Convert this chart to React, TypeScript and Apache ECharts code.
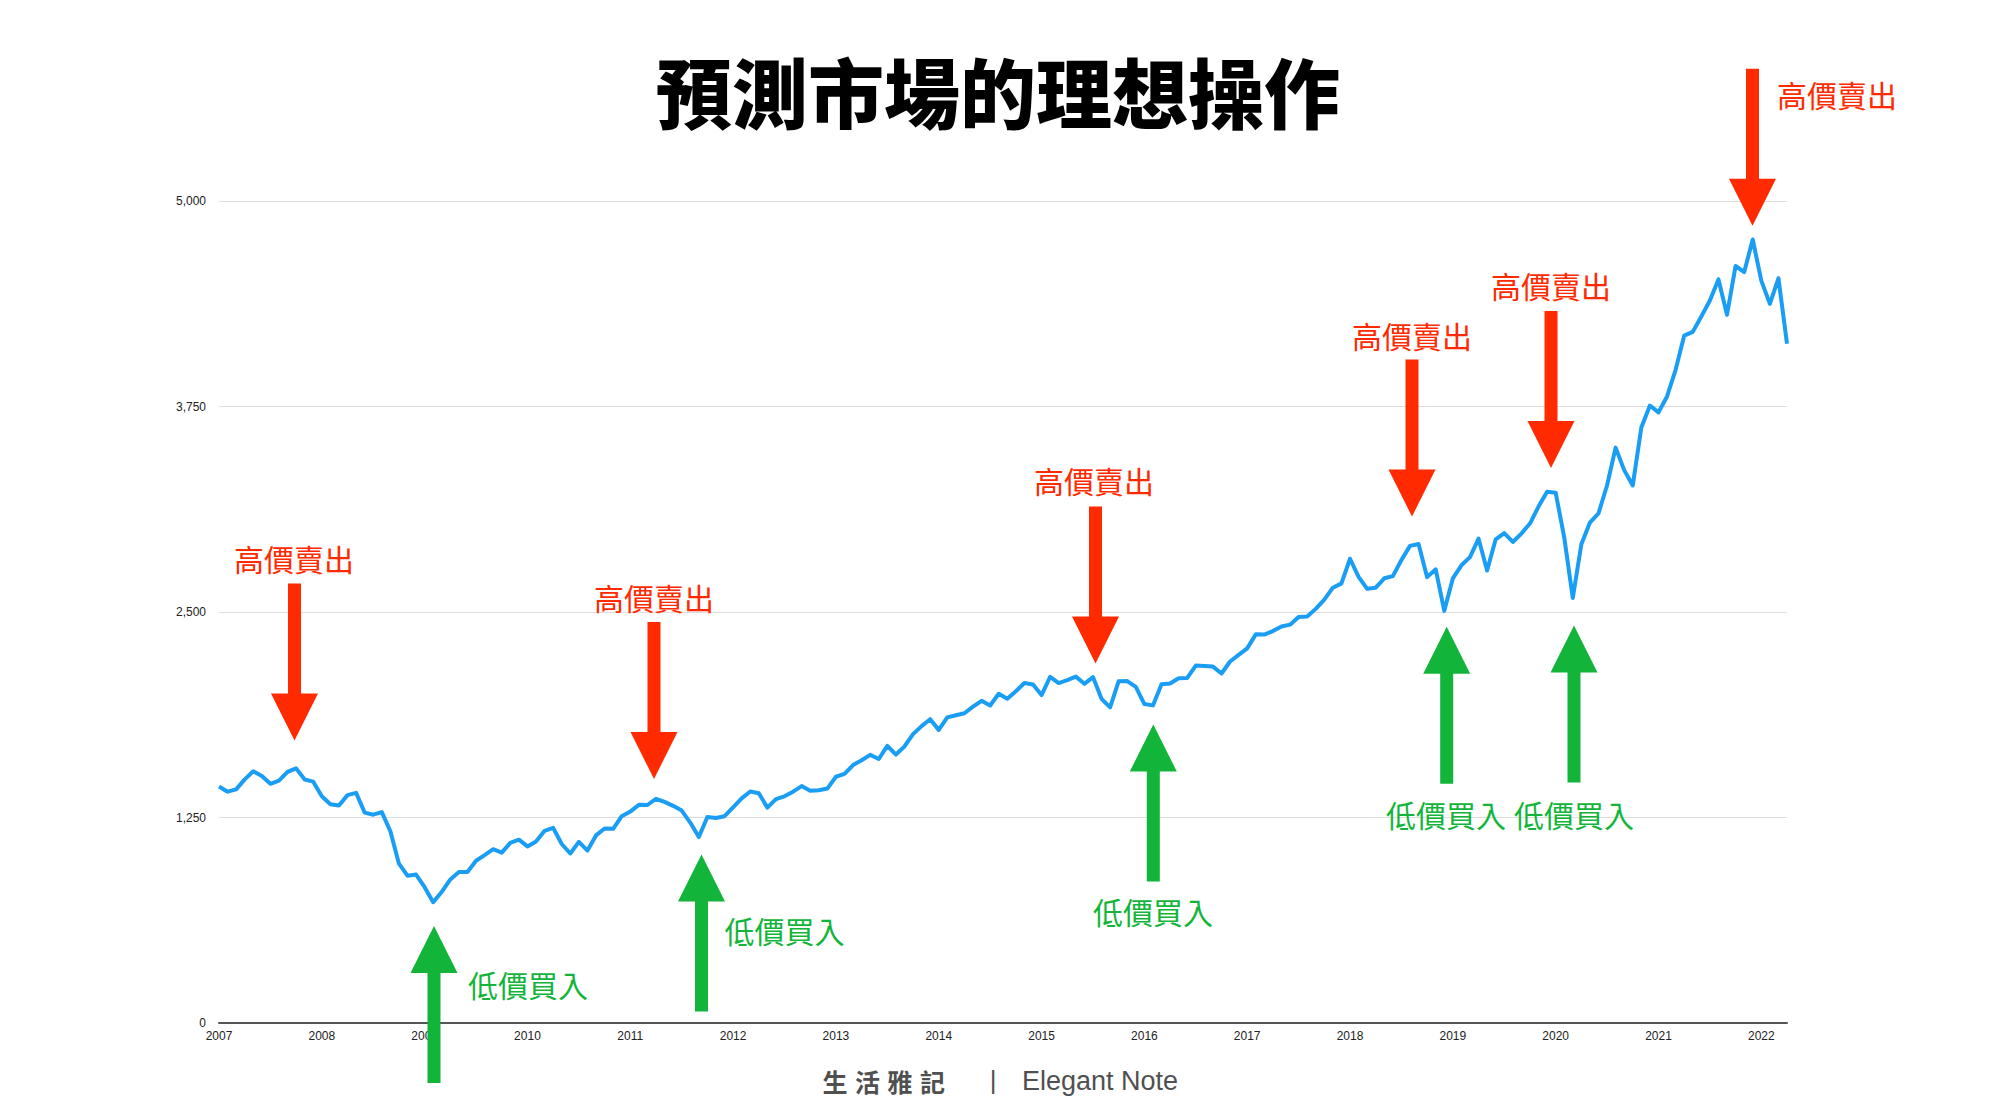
import React, { useEffect, useRef } from "react";
import * as echarts from "echarts";

// ---------- text ----------
const TITLE = "預測市場的理想操作";
const SELL_LABEL = "高價賣出";
const BUY_LABEL = "低價買入";
const FOOTER_CN = ["生", "活", "雅", "記"];
const FOOTER_SEP = "|";
const FOOTER_EN = "Elegant Note";

// ---------- data (monthly closes) ----------
const years = [2007, 2008, 2009, 2010, 2011, 2012, 2013, 2014, 2015, 2016, 2017, 2018, 2019, 2020, 2021, 2022];
const months = ["01", "02", "03", "04", "05", "06", "07", "08", "09", "10", "11", "12"];

const v2007 = [1438, 1407, 1421, 1482, 1531, 1503, 1455, 1474, 1527, 1549, 1481, 1468];
const v2008 = [1379, 1331, 1323, 1386, 1400, 1280, 1267, 1283, 1166, 969, 896, 903];
const v2009 = [826, 735, 798, 873, 919, 919, 987, 1021, 1057, 1036, 1096, 1115];
const v2010 = [1074, 1104, 1169, 1187, 1089, 1031, 1102, 1049, 1141, 1183, 1181, 1258];
const v2011 = [1286, 1327, 1326, 1364, 1345, 1321, 1292, 1219, 1131, 1253, 1247, 1258];
const v2012 = [1312, 1366, 1408, 1398, 1310, 1362, 1379, 1407, 1441, 1412, 1416, 1426];
const v2013 = [1498, 1515, 1569, 1598, 1631, 1606, 1686, 1633, 1682, 1757, 1806, 1848];
const v2014 = [1783, 1859, 1872, 1884, 1924, 1960, 1931, 2003, 1972, 2018, 2068, 2059];
const v2015 = [1995, 2105, 2068, 2086, 2107, 2063, 2104, 1972, 1920, 2079, 2080, 2044];
const v2016 = [1940, 1932, 2060, 2065, 2097, 2099, 2174, 2171, 2168, 2126, 2199, 2239];
const v2017 = [2279, 2364, 2363, 2384, 2412, 2423, 2470, 2472, 2519, 2575, 2648, 2674];
const v2018 = [2824, 2714, 2641, 2648, 2705, 2718, 2816, 2902, 2914, 2712, 2760, 2507];
const v2019 = [2704, 2784, 2834, 2946, 2752, 2942, 2980, 2926, 2977, 3038, 3141, 3231];
const v2020 = [3226, 2954, 2585, 2912, 3044, 3100, 3271, 3500, 3363, 3270, 3622, 3756];
const v2021 = [3714, 3811, 3973, 4181, 4204, 4298, 4395, 4523, 4308, 4605, 4567, 4766];
const v2022 = [4516, 4374, 4530, 4132];

const yTicks = [0, 1250, 2500, 3750, 5000];

// ---------- annotation layout (pixels) ----------
const sellMarks = [
  { x: 294.5, tip: 740.5, lx: 294, ly: 558 },
  { x: 654, tip: 779, lx: 654, ly: 597 },
  { x: 1095.5, tip: 663.5, lx: 1094, ly: 479.5 },
  { x: 1412, tip: 516.5, lx: 1412, ly: 334.5 },
  { x: 1551, tip: 468, lx: 1551, ly: 284.5 },
  { x: 1752.5, tip: 225.7, lx: 1837, ly: 93.5 },
];
const buyMarks = [
  { x: 434, tip: 926, lx: 528, ly: 983.5 },
  { x: 701.5, tip: 854.6, lx: 784.5, ly: 929.5 },
  { x: 1153.3, tip: 724.5, lx: 1153, ly: 910.5 },
  { x: 1446.7, tip: 626.7, lx: 1446, ly: 813.5 },
  { x: 1574, tip: 625.5, lx: 1574, ly: 813.5 },
];

const RED = "#ff2a00";
const GREEN = "#12b53a";
const BLUE = "#1a9df4";
const CJK = '"Noto Sans CJK TC", "Noto Sans CJK SC", sans-serif';
const LATIN = '"Liberation Sans", Arial, "Noto Sans", sans-serif';

const HEAD_LEN = 47;
const HEAD_HALF = 23.5;
const SHAFT_HALF = 6.5;
const SHAFT_LEN = 110;

function arrowPoints(x: number, tip: number, dir: 1 | -1): number[][] {
  // dir = 1 : pointing down ; dir = -1 : pointing up
  const base = tip - dir * HEAD_LEN;
  const tail = base - dir * SHAFT_LEN;
  return [
    [x - SHAFT_HALF, tail],
    [x + SHAFT_HALF, tail],
    [x + SHAFT_HALF, base],
    [x + HEAD_HALF, base],
    [x, tip],
    [x - HEAD_HALF, base],
    [x - SHAFT_HALF, base],
  ];
}

function label(text: string, x: number, y: number, fill: string, font: string) {
  return {
    type: "text",
    x,
    y,
    z: 120,
    style: {
      text,
      fill,
      font,
      align: "center",
      verticalAlign: "middle",
      textAlign: "center",
      textVerticalAlign: "middle",
    },
  };
}

export default function App() {
  const ref = useRef<HTMLDivElement>(null);

  useEffect(() => {
    if (!ref.current) return;
    const chart = echarts.init(ref.current, undefined, { renderer: "svg" });

    const values = [
      ...v2007, ...v2008, ...v2009, ...v2010, ...v2011, ...v2012, ...v2013, ...v2014,
      ...v2015, ...v2016, ...v2017, ...v2018, ...v2019, ...v2020, ...v2021, ...v2022,
    ];
    const categories: string[] = [];
    years.forEach((y) => months.forEach((m) => categories.push(`${y}-${m}`)));
    categories.length = values.length;

    const graphics: any[] = [];
    graphics.push(label(TITLE, 998, 90, "#000", `900 76px ${CJK}`));
    sellMarks.forEach((a) => {
      graphics.push({
        type: "polygon",
        z: 110,
        shape: { points: arrowPoints(a.x, a.tip, 1) },
        style: { fill: RED },
      });
      graphics.push(label(SELL_LABEL, a.lx, a.ly, RED, `30px ${CJK}`));
    });
    buyMarks.forEach((a) => {
      graphics.push({
        type: "polygon",
        z: 110,
        shape: { points: arrowPoints(a.x, a.tip, -1) },
        style: { fill: GREEN },
      });
      graphics.push(label(BUY_LABEL, a.lx, a.ly, GREEN, `30px ${CJK}`));
    });
    FOOTER_CN.forEach((ch, i) => {
      graphics.push(label(ch, 835 + i * 32.5, 1081, "#505050", `bold 25px ${CJK}`));
    });
    graphics.push(label(FOOTER_SEP, 993, 1080, "#505050", `26px ${LATIN}`));
    graphics.push(label(FOOTER_EN, 1100, 1081, "#505050", `27px ${LATIN}`));

    chart.setOption({
      animation: false,
      backgroundColor: "#ffffff",
      grid: {
        left: 219,
        right: 213,
        top: 201,
        bottom: 97,
        containLabel: false,
        outerBoundsMode: "none",
      },
      xAxis: {
        type: "category",
        data: categories,
        boundaryGap: false,
        axisLine: { show: true, lineStyle: { color: "#555", width: 2 } },
        axisTick: { show: false },
        splitLine: { show: false },
        axisLabel: {
          interval: 11,
          margin: 7,
          color: "#222",
          fontSize: 12,
          fontFamily: LATIN,
          formatter: (v: string) => v.slice(0, 4),
        },
      },
      yAxis: {
        type: "value",
        min: yTicks[0],
        max: yTicks[yTicks.length - 1],
        interval: yTicks[1] - yTicks[0],
        axisLine: { show: false },
        axisTick: { show: false },
        splitLine: { show: true, lineStyle: { color: "#dddddd", width: 1 } },
        axisLabel: {
          margin: 13,
          color: "#222",
          fontSize: 12,
          fontFamily: LATIN,
          formatter: (v: number) => v.toLocaleString("en-US"),
        },
      },
      series: [
        {
          type: "line",
          data: values,
          symbol: "none",
          smooth: false,
          lineStyle: { color: BLUE, width: 4, join: "round" },
          itemStyle: { color: BLUE },
          z: 5,
        },
      ],
      graphic: graphics,
    });

    return () => chart.dispose();
  }, []);

  return (
    <div
      ref={ref}
      style={{ position: "fixed", left: 0, top: 0, width: 2000, height: 1120, background: "#fff" }}
    />
  );
}
